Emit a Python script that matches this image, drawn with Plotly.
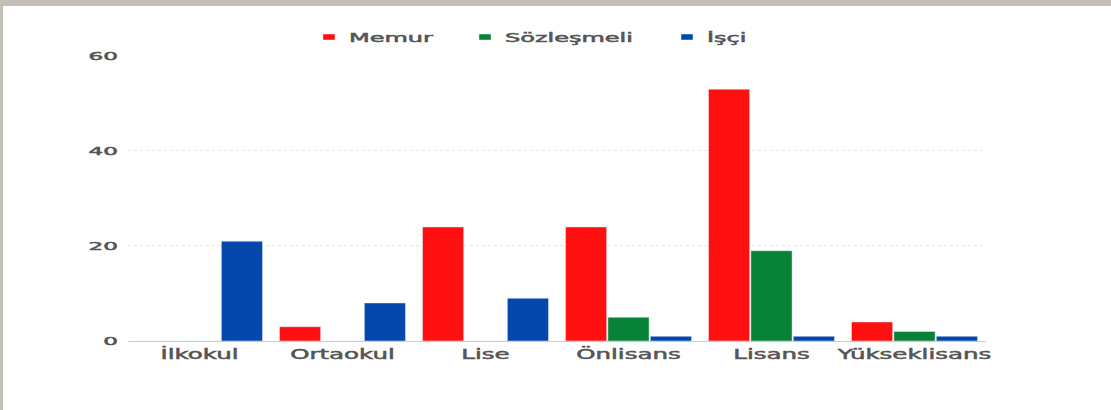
import plotly.graph_objects as go

categories = ["İlkokul", "Ortaokul", "Lise", "Önlisans", "Lisans", "Yükseklisans"]
memur = [0, 3, 24, 24, 53, 4]
sozlesmeli = [0, 0, 0, 5, 19, 2]
isci = [21, 8, 9, 1, 1, 1]
y_ticks = [0, 20, 40, 60]

W, H = 1111, 410
L, R, T, B = 128, 986, 55, 341


def px2x(px):
    return (px - L) / (R - L)


def py2y(py):
    return (B - py) / (B - T)


fig = go.Figure()
fig.add_bar(name="Memur", x=categories, y=memur, marker_color="#ff1010", legend="legend")
fig.add_bar(name="Sözleşmeli", x=categories, y=sozlesmeli, marker_color="#078237", legend="legend2")
fig.add_bar(name="İşçi", x=categories, y=isci, marker_color="#0548ad", legend="legend3")

# textured border strips (top and left)
fig.add_shape(type="rect", xref="paper", yref="paper", layer="below",
              x0=px2x(0), x1=px2x(W), y0=py2y(6), y1=py2y(0),
              fillcolor="#c3bfb7", line_width=0)
fig.add_shape(type="rect", xref="paper", yref="paper", layer="below",
              x0=px2x(0), x1=px2x(3), y0=py2y(H), y1=py2y(0),
              fillcolor="#c3bfb7", line_width=0)

legend_font = dict(family="DejaVu Sans", size=12, color="#555555")


def leg(px):
    return dict(orientation="h", x=px2x(px), xanchor="left",
                y=py2y(37), yanchor="middle", font=legend_font,
                bgcolor="rgba(0,0,0,0)", borderwidth=0)


fig.update_layout(
    width=W, height=H,
    margin=dict(l=L, r=W - R, t=T, b=H - B, pad=0),
    paper_bgcolor="white", plot_bgcolor="white",
    barmode="group", bargap=0.11, bargroupgap=0.03,
    font=dict(family="DejaVu Sans, sans-serif", color="#555"),
    showlegend=True,
    legend=leg(329 - 20),
    legend2=leg(485 - 20),
    legend3=leg(687 - 20),
    xaxis=dict(showgrid=False, ticks="", showline=False,
               tickfont=dict(family="DejaVu Sans", size=14, color="#555555"),
               ticklabelstandoff=3),
    yaxis=dict(range=[0, 60.2], tickvals=y_ticks, showgrid=True,
               gridcolor="#eae6e6", griddash="dot", gridwidth=1,
               zeroline=True, zerolinecolor="#cccccc", zerolinewidth=1,
               tickfont=dict(family="DejaVu Sans", size=11, color="#555555"),
               ticklabelstandoff=9, showline=False),
)

post_js = """
document.body.style.margin = '0';
var gd = document.getElementById('{plot_id}');
function stretch(sel, f) {
  gd.querySelectorAll(sel).forEach(function (t) {
    t.removeAttribute('textLength');
    t.removeAttribute('lengthAdjust');
    var w = t.getComputedTextLength();
    if (w > 0) {
      t.setAttribute('lengthAdjust', 'spacingAndGlyphs');
      t.setAttribute('textLength', (w * f).toFixed(2));
    }
    t.style.stroke = '#555555';
    t.style.strokeWidth = '0.5px';
  });
}
function restyleText() {
  stretch('g.xtick text', 1.75);
  stretch('g.ytick text', 2.1);
  stretch('.infolayer g.traces text', 2.0);
  gd.querySelectorAll('.infolayer .scrollbox').forEach(function (s) {
    s.removeAttribute('clip-path');
  });
  gd.querySelectorAll('g.legendpoints path').forEach(function (p) {
    p.setAttribute('d', 'M6,3H-6V-3H6Z');
  });
}
var busy = false;
var obs = new MutationObserver(function () {
  if (busy) return;
  busy = true;
  restyleText();
  obs.takeRecords();
  busy = false;
});
obs.observe(gd, {childList: true, subtree: true, characterData: true});
restyleText();
setTimeout(restyleText, 30);
setTimeout(restyleText, 200);
gd.on('plotly_afterplot', restyleText);
"""

fig.write_html("out.html", post_script=post_js, config={"displayModeBar": False})
